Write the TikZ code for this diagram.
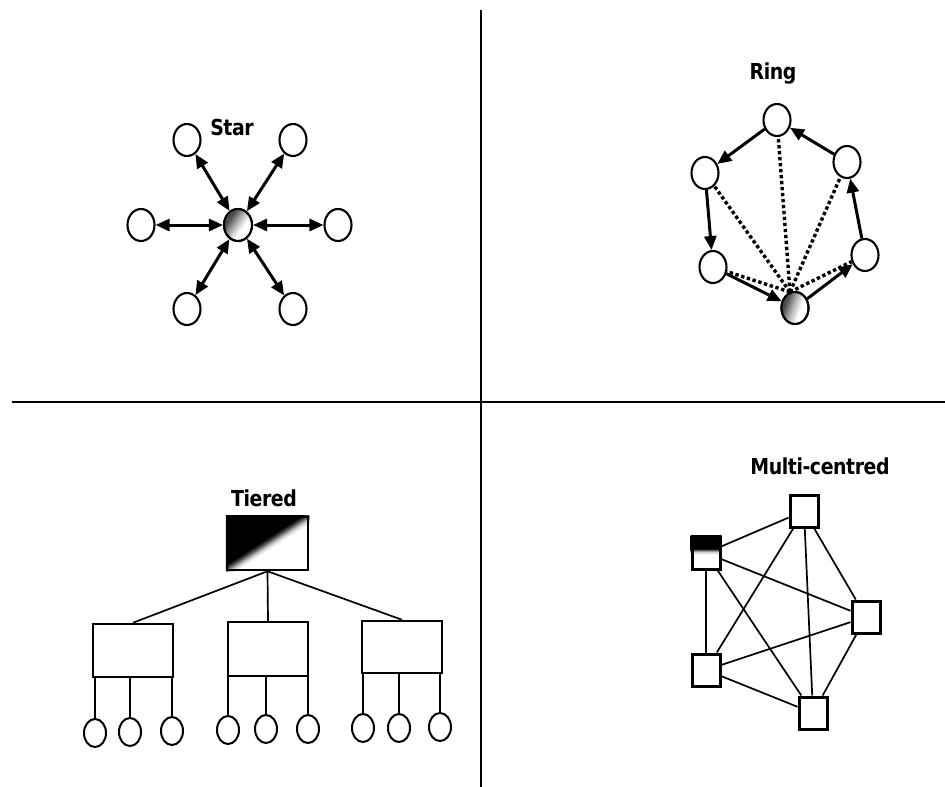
\documentclass[tikz,border=0pt]{standalone}
\usepackage{fontspec}
\setmainfont{DejaVu Sans}
\usetikzlibrary{shapes.geometric,arrows.meta}

% sharp diagonal split: black on one side, grainy grey edge, white on the other
\pgfdeclarehorizontalshading{splitdiag}{100bp}{color(0bp)=(black); color(48bp)=(black); color(49.5bp)=(black!65); color(51bp)=(gray!40); color(52.5bp)=(white); color(100bp)=(white)}
% dark hatched part of a hub node
\pgfdeclarehorizontalshading{hatchdark}{100bp}{color(0bp)=(black!80); color(38bp)=(black!70); color(48bp)=(gray!55); color(56bp)=(white); color(100bp)=(white)}
% black band across the top of a box
\pgfdeclareverticalshading{topband}{100bp}{color(0bp)=(white); color(48bp)=(white); color(52bp)=(gray!40); color(56bp)=(black); color(100bp)=(black)}

\tikzset{
  title/.style={font=\fontsize{22}{24}\selectfont\bfseries\addfontfeature{FakeStretch=0.86,LetterSpace=-2}, inner sep=0pt},
  oval/.style={ellipse, draw, line width=2.1pt, fill=white, minimum width=27pt, minimum height=32pt, inner sep=0pt},
  leaf/.style={ellipse, draw, line width=2pt, fill=white, minimum width=22pt, minimum height=28pt, inner sep=0pt},
  tierbox/.style={rectangle, draw, line width=2.5pt, fill=white, minimum width=80pt, minimum height=53pt, inner sep=0pt},
  meshbox/.style={rectangle, draw, line width=3pt, fill=white, minimum width=28pt, minimum height=32pt, inner sep=0pt},
  twoway/.style={line width=3pt, {Triangle[length=14pt,width=12pt]}-{Triangle[length=14pt,width=12pt]}},
  oneway/.style={line width=3pt, -{Triangle[length=14pt,width=12pt]}},
  spoke/.style={line width=3.4pt, dash pattern=on 3.4pt off 2.6pt},
  thin/.style={line width=1.7pt},
  divider/.style={line width=2pt}
}

\begin{document}
\begin{tikzpicture}[x=1pt, y=-1pt]
\useasboundingbox (0,0) rectangle (945,787);

% quadrant dividers
\coordinate (vtop) at (481,10);
\coordinate (vbot) at (481,787);
\coordinate (hleft) at (12,402);
\coordinate (hright) at (945,402);
\draw[divider] (vtop) -- (vbot);
\draw[divider] (hleft) -- (hright);

% ---------- Star ----------
\node[title] (startitle) at (232,127) {Star};
\node[oval, minimum width=28pt] (sc) at (238,225) {};
\begin{scope}
  \clip (sc.center) ellipse[x radius=13pt, y radius=15pt];
  \shade[shading=hatchdark, shading angle=-35, shift={(sc.center)}] (-22,-22) rectangle (22,22);
\end{scope}
\node[oval, fill=none, minimum width=28pt] at (sc) {};
\node[oval] (s1) at (187,140) {};
\node[oval] (s2) at (293,140) {};
\node[oval] (s3) at (141,225) {};
\node[oval] (s4) at (338,225) {};
\node[oval] (s5) at (187,309) {};
\node[oval] (s6) at (293,309) {};
\foreach \n in {s1,s2,s3,s4,s5,s6}
  \draw[twoway] (sc) -- (\n);

% ---------- Ring ----------
\node[title] (ringtitle) at (773,74) {Ring};
\node[oval] (r1) at (777,120) {};
\node[oval] (r2) at (847,162) {};
\node[oval] (r3) at (705,173) {};
\node[oval] (r4) at (713,267) {};
\node[oval] (r5) at (865,255) {};
\node[oval] (r0) at (795,308) {};
\begin{scope}
  \clip (r0.center) ellipse[x radius=12.5pt, y radius=15pt];
  \shade[shading=hatchdark, shading angle=-20, shift={(r0.center)}] (-22,-22) rectangle (22,22);
\end{scope}
\node[oval, fill=none] at (r0) {};
\coordinate (hub) at (790,292);
\foreach \n in {r1,r2,r3,r4,r5}
  \draw[spoke] (hub) -- (\n);
\draw[oneway] (r0) -- (r5);
\draw[oneway] (r5) -- (r2);
\draw[oneway] (r2) -- (r1);
\draw[oneway] (r1) -- (r3);
\draw[oneway] (r3) -- (r4);
\draw[oneway] (r4) -- (r0);

% ---------- Tiered ----------
\node[title] (tiertitle) at (264,498) {Tiered};
\node[tierbox, minimum width=81pt] (t0) at (267.5,543.5) {};
\begin{scope}
  \clip (t0.south west) rectangle (t0.north east);
  \shade[shading=splitdiag, shading angle=-57, shift={(t0.center)}] (-60,-60) rectangle (60,60);
\end{scope}
\node[tierbox, fill=none, minimum width=81pt] at (t0) {};
\node[tierbox] (t1) at (133,650.5) {};
\node[tierbox, minimum height=54pt] (t2) at (268,649) {};
\node[tierbox, minimum height=52pt] (t3) at (402,647) {};
\foreach \c in {t1,t2,t3}
  \draw[thin] (t0.south) -- (\c.north);

\node[leaf] (a1) at (95,733) {};
\node[leaf] (a2) at (130,732) {};
\node[leaf] (a3) at (172,731) {};
\node[leaf] (b1) at (228,730) {};
\node[leaf] (b2) at (266,729) {};
\node[leaf] (b3) at (308,729) {};
\node[leaf] (c1) at (363,728) {};
\node[leaf] (c2) at (399,728) {};
\node[leaf] (c3) at (440,727) {};
\foreach \l in {a1,a2,a3} \draw[thin] (\l.north) -- (\l.north |- t1.south);
\foreach \l in {b1,b2,b3} \draw[thin] (\l.north) -- (\l.north |- t2.south);
\foreach \l in {c1,c2,c3} \draw[thin] (\l.north) -- (\l.north |- t3.south);

% ---------- Multi-centred ----------
\node[title] (multititle) at (820,466) {Multi-centred};
\node[meshbox] (m1) at (706,553) {};
\node[meshbox] (m2) at (804,511) {};
\node[meshbox] (m3) at (866,617) {};
\node[meshbox] (m4) at (706,670) {};
\node[meshbox] (m5) at (813,713) {};
\foreach \a/\b in {m1/m2,m1/m3,m1/m4,m1/m5,m2/m3,m2/m4,m2/m5,m3/m4,m3/m5,m4/m5}
  \draw[thin] (\a) -- (\b);
\foreach \m in {m1,m2,m3,m4,m5}
  \node[meshbox] at (\m) {};
\shade[shading=topband] (m1.south west) rectangle (m1.north east);
\node[meshbox, fill=none] at (m1) {};
\end{tikzpicture}
\end{document}
